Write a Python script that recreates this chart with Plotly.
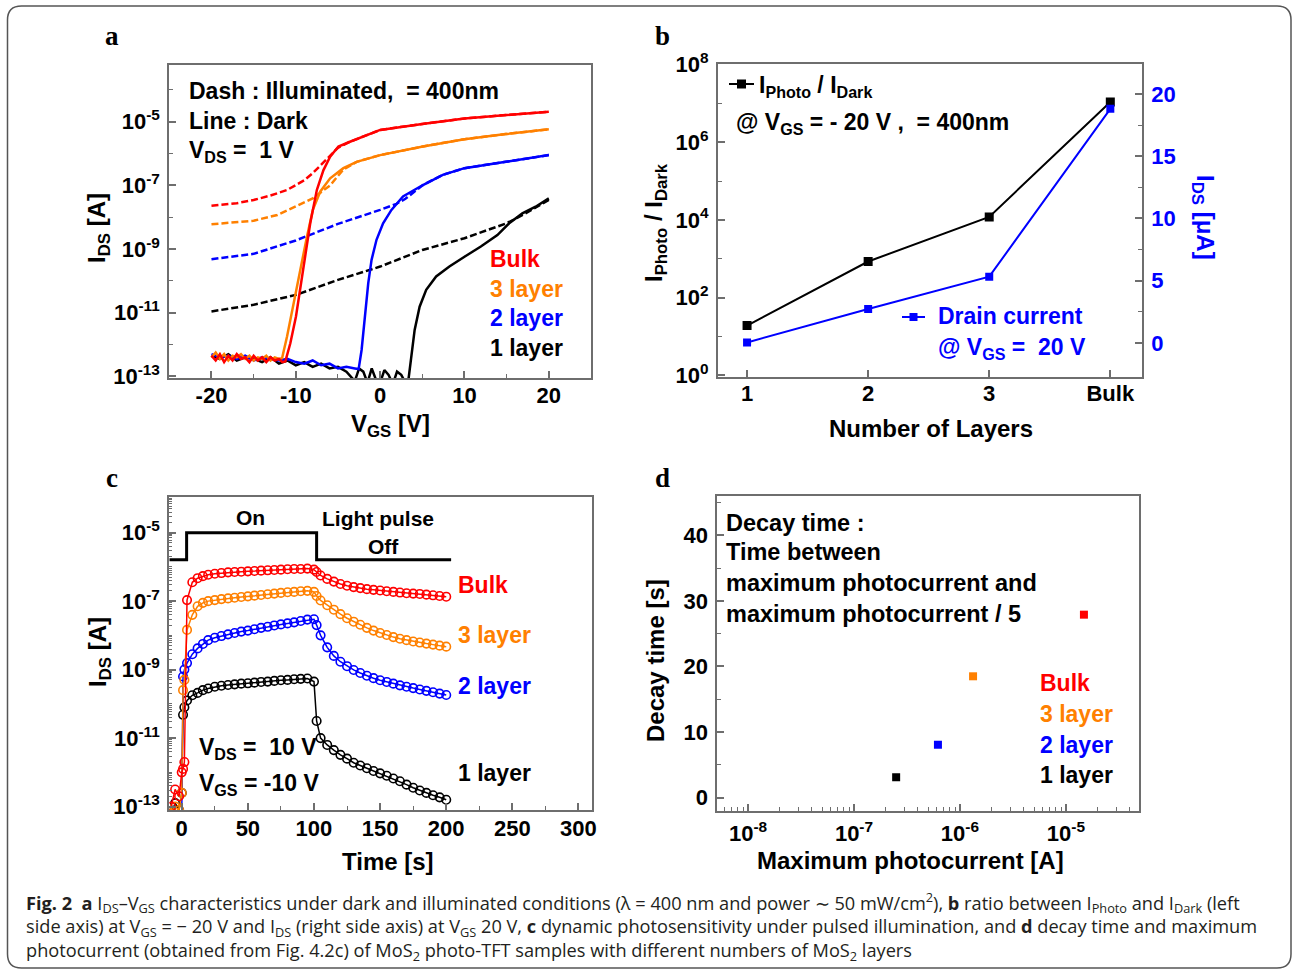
import plotly.graph_objects as go

W, H = 1293, 972

# ---------------- data ----------------
# Panel a : I_DS - V_GS (values are log10 of I_DS in A)
a_bulk_dark_v = [-20, -19.5, -19, -18.5, -18, -17.5, -17, -16.5, -16, -15.5, -15, -14.5, -14, -13.5, -13, -12.5, -12,
                 -11.6, -11.24, -10.65, -9.98, -9.47, -8.88, -8.29, -7.5, -6.72, -5.93, -4.95, -3.58, 0, 5, 10, 15, 20]
a_bulk_dark_log = [-12.35, -12.5, -12.3, -12.55, -12.35, -12.5, -12.3, -12.45, -12.4, -12.55, -12.35, -12.5, -12.4, -12.55, -12.4, -12.5, -12.45,
                   -12.55, -12.53, -11.96, -11.12, -10.28, -9.24, -8.19, -7.14, -6.52, -6.10, -5.78, -5.63, -5.26, -5.07, -4.90, -4.79, -4.69]
a_bulk_ill_v = [-20, -17, -15, -13, -11, -10, -9, -8, -7, -6, -5, -3.58, 0, 5, 10, 15, 20]
a_bulk_ill_log = [-7.64, -7.56, -7.46, -7.32, -7.14, -7.0, -6.84, -6.62, -6.35, -6.08, -5.82, -5.63, -5.26, -5.07, -4.9, -4.79, -4.69]

a_l3_dark_v = [-20, -19.5, -19, -18.5, -18, -17.5, -17, -16.5, -16, -15.5, -15, -14.5, -14, -13.5, -13, -12.5, -12,
               -11.63, -11.04, -10.26, -9.47, -8.68, -7.98, -7.11, -5.93, -4.36, -2.79, 0, 5.07, 10, 14.9, 20]
a_l3_dark_log = [-12.4, -12.25, -12.45, -12.3, -12.5, -12.35, -12.4, -12.3, -12.45, -12.35, -12.5, -12.4, -12.45, -12.35, -12.5, -12.4, -12.45,
                 -12.43, -11.75, -10.70, -9.65, -8.61, -7.77, -7.20, -6.78, -6.46, -6.26, -6.05, -5.78, -5.55, -5.39, -5.24]
a_l3_ill_v = [-20, -17, -15, -12.2, -10, -8, -5.93, -4.36, -2.79, 0, 5.07, 10, 14.9, 20]
a_l3_ill_log = [-8.22, -8.16, -8.11, -7.93, -7.67, -7.41, -7.0, -6.5, -6.26, -6.05, -5.78, -5.55, -5.39, -5.24]

a_l2_dark_v = [-20, -19, -18, -17, -16, -15, -14, -13, -12, -11, -10, -9, -8, -7, -6, -5, -4, -3,
               -2.55, -2.2, -1.81, -1.41, -1.02, -0.43, 0.35, 1.34, 2.71, 5.07, 7.43, 10, 14.9, 20]
a_l2_dark_log = [-12.3, -12.4, -12.35, -12.45, -12.35, -12.5, -12.4, -12.45, -12.5, -12.45, -12.55, -12.6, -12.5, -12.65, -12.6, -12.75, -12.7, -12.75,
                 -12.77, -12.17, -11.12, -10.07, -9.34, -8.71, -8.19, -7.77, -7.35, -6.99, -6.67, -6.46, -6.26, -6.05]
a_l2_ill_v = [-20, -15, -10, -5, 0, 1.93, 3, 5.07, 7.43, 10, 14.9, 20]
a_l2_ill_log = [-9.32, -9.15, -8.73, -8.21, -7.77, -7.58, -7.42, -6.99, -6.67, -6.46, -6.26, -6.05]

a_l1_dark_v = [-20, -19, -18, -17, -16, -15, -14, -13, -12, -11, -10, -9, -8, -7, -6, -5, -4,
               -3, -2.5, -2, -1.5, -1, -0.5, 0, 0.5, 1, 1.5, 2, 2.5, 3, 3.38, 3.7, 4.09, 4.68, 5.46, 6.64, 8.21, 10, 11.94,
               13.9, 15.3, 16.86, 18.43, 20]
a_l1_dark_log = [-12.35, -12.45, -12.3, -12.5, -12.4, -12.45, -12.55, -12.4, -12.6, -12.5, -12.65, -12.55, -12.7, -12.6, -12.75, -12.7, -12.85,
                 -13.15, -12.75, -12.85, -13.2, -12.75, -13.1, -13.2, -12.8, -12.95, -13.25, -12.85, -12.95, -13.2,
                 -13.05, -12.37, -11.54, -10.81, -10.28, -9.86, -9.55, -9.24, -8.92, -8.56, -8.19, -7.88, -7.67, -7.41]
a_l1_ill_v = [-20, -15, -10, -5, 0, 5, 10, 15, 16.9, 20]
a_l1_ill_log = [-10.96, -10.75, -10.44, -9.97, -9.55, -9.03, -8.66, -8.19, -7.93, -7.46]
a_xticks = [-20, -10, 0, 10, 20]
a_xtick_labels = ['-20', '-10', '0', '10', '20']

# Panel b
b_layers = ['1', '2', '3', 'Bulk']
b_ratio = [19, 850, 1.2e4, 1.1e7]          # I_photo / I_dark
b_drain_uA = [0.05, 2.73, 5.33, 18.8]       # I_DS [uA]

# Panel c : dynamic response (log10 of I_DS in A)
c_time = [-8, -5, -2, 0, 1, 2, 4, 8, 12, 16, 20, 25, 30, 35, 40, 45, 50, 55, 60, 65, 70, 75, 80, 85, 90, 95, 100,
          102, 105, 110, 115, 120, 125, 130, 135, 140, 145, 150, 155, 160, 165, 170, 175, 180, 185, 190, 195, 200]
c_bulk_log = [-13.0, -12.5, -12.7, -12.0, -11.9, -11.7, -6.97, -6.45, -6.33, -6.27,
              -6.23, -6.20, -6.18, -6.16, -6.15, -6.14, -6.13, -6.12, -6.11, -6.10, -6.09, -6.08, -6.07, -6.06, -6.06, -6.05,
              -6.08, -6.15, -6.25,
              -6.35, -6.43, -6.50, -6.55, -6.59, -6.62, -6.65, -6.67, -6.69, -6.71, -6.73, -6.75, -6.77, -6.78, -6.79, -6.81, -6.83, -6.85, -6.87]
c_l3_log = [-13.2, -13.0, -13.1, -12.6, -9.6, -9.3, -7.84, -7.40, -7.15, -7.05,
            -7.00, -6.97, -6.94, -6.92, -6.90, -6.88, -6.86, -6.84, -6.82, -6.80, -6.78, -6.76, -6.74, -6.73, -6.71, -6.70,
            -6.73, -6.85, -6.98,
            -7.12, -7.25, -7.38, -7.50, -7.60, -7.69, -7.78, -7.86, -7.93, -7.99, -8.05, -8.10, -8.14, -8.18, -8.21, -8.24, -8.27, -8.30, -8.33]
c_l2_log = [-13.3, -13.3, -13.3, -13.3, -9.2, -9.0, -8.81, -8.55, -8.38, -8.25,
            -8.14, -8.07, -8.02, -7.97, -7.93, -7.89, -7.86, -7.82, -7.78, -7.75, -7.71, -7.68, -7.65, -7.62, -7.58, -7.54,
            -7.53, -7.70, -8.00,
            -8.35, -8.60, -8.77, -8.90, -9.01, -9.10, -9.18, -9.25, -9.31, -9.36, -9.41, -9.46, -9.50, -9.54, -9.58, -9.62, -9.66, -9.70, -9.74]
c_l1_log = [-13.2, -12.9, -13.1, -12.6, -10.32, -10.1, -9.90, -9.75, -9.68, -9.60,
            -9.55, -9.50, -9.47, -9.45, -9.43, -9.41, -9.40, -9.38, -9.36, -9.35, -9.33, -9.31, -9.30, -9.28, -9.27, -9.26,
            -9.35, -10.50, -11.00,
            -11.20, -11.35, -11.49, -11.60, -11.72, -11.80, -11.88, -11.96, -12.03, -12.10, -12.18, -12.26, -12.36, -12.45, -12.53, -12.60, -12.67, -12.73, -12.80]
c_pulse_t = [-9.4, 3.7, 3.7, 102, 102, 203.7]
c_pulse_level = [1.62e-6, 1.62e-6, 1e-5, 1e-5, 1.62e-6, 1.62e-6]

# Panel d
d_max_photocurrent = [2.5e-7, 6.2e-7, 1.33e-6, 1.48e-5]
d_decay_time = [3.1, 8.06, 18.5, 27.9]

layer_names = ['1 layer', '2 layer', '3 layer', 'Bulk']

RED, ORANGE, BLUE, BLACK = '#ff0000', '#ff8000', '#0000ff', '#000000'
layer_colors = [BLACK, BLUE, ORANGE, RED]
AXC = '#6e6e6e'
FONT = 'Liberation Sans'
TICK = 22
TXT = 23
TITLE = 24


def lin(logs):
    return [10 ** v for v in logs]


def fx(p):
    return p / W


def fy(p):
    return 1 - p / H


fig = go.Figure()

# ---------- panel a ----------
for v, lg, c in [(a_l1_ill_v, a_l1_ill_log, BLACK), (a_l2_ill_v, a_l2_ill_log, BLUE),
                 (a_l3_ill_v, a_l3_ill_log, ORANGE), (a_bulk_ill_v, a_bulk_ill_log, RED)]:
    fig.add_trace(go.Scatter(x=v, y=lin(lg), mode='lines', line=dict(color=c, width=2.5, dash='7px,3px'),
                             xaxis='x', yaxis='y', showlegend=False))
for v, lg, c in [(a_l1_dark_v, a_l1_dark_log, BLACK), (a_l2_dark_v, a_l2_dark_log, BLUE),
                 (a_l3_dark_v, a_l3_dark_log, ORANGE), (a_bulk_dark_v, a_bulk_dark_log, RED)]:
    fig.add_trace(go.Scatter(x=v, y=lin(lg), mode='lines', line=dict(color=c, width=2.5),
                             xaxis='x', yaxis='y', showlegend=False))

# ---------- panel b ----------
fig.add_trace(go.Scatter(x=b_layers, y=b_ratio, mode='lines+markers', line=dict(color=BLACK, width=2),
                         marker=dict(symbol='square', size=9, color=BLACK), xaxis='x2', yaxis='y2', showlegend=False))
fig.add_trace(go.Scatter(x=b_layers, y=b_drain_uA, mode='lines+markers', line=dict(color=BLUE, width=2),
                         marker=dict(symbol='square', size=8, color=BLUE), xaxis='x2', yaxis='y3', showlegend=False))

# ---------- panel c ----------
fig.add_trace(go.Scatter(x=c_pulse_t, y=c_pulse_level, mode='lines', line=dict(color=BLACK, width=3),
                         xaxis='x3', yaxis='y4', showlegend=False))
for lg, c in [(c_l1_log, BLACK), (c_l2_log, BLUE), (c_l3_log, ORANGE), (c_bulk_log, RED)]:
    fig.add_trace(go.Scatter(x=c_time, y=lin(lg), mode='lines+markers', line=dict(color=c, width=1.5),
                             marker=dict(symbol='circle-open', size=8.5, color=c, line=dict(width=1.6)),
                             xaxis='x3', yaxis='y4', showlegend=False, cliponaxis=True))

# ---------- panel d ----------
fig.add_trace(go.Scatter(x=d_max_photocurrent, y=d_decay_time, mode='markers',
                         marker=dict(symbol='square', size=8, color=layer_colors),
                         xaxis='x4', yaxis='y5', showlegend=False))


def ax(**kw):
    d = dict(showline=True, linecolor=AXC, linewidth=2, mirror=True, ticks='inside', ticklen=7,
             tickwidth=1.5, tickcolor=AXC, showgrid=False, zeroline=False, automargin=False,
             tickfont=dict(family=FONT, size=TICK, color='black', weight=700), ticklabelstandoff=3)
    d.update(kw)
    return d


def pow_text(k):
    return '10<sup>%d</sup>' % k


a_dom_x = [fx(169.3), fx(591)]
a_dom_y = [fy(378), fy(65)]
b_dom_x = [fx(718), fx(1141.8)]
b_dom_y = [fy(376.7), fy(64)]
c_dom_x = [fx(169.3), fx(591.7)]
c_dom_y = [fy(810), fy(496.7)]
d_dom_x = [fx(717.3), fx(1139)]
d_dom_y = [fy(810.7), fy(496)]

minor_small = dict(ticks='inside', ticklen=4, tickwidth=1.2, tickcolor=AXC)

fig.update_layout(
    width=W, height=H, autosize=False, margin=dict(l=0, r=0, t=0, b=0, autoexpand=False),
    paper_bgcolor='white', plot_bgcolor='white', showlegend=False,
    xaxis=ax(domain=a_dom_x, anchor='y', range=[-25, 25], tickvals=a_xticks, ticktext=a_xtick_labels,
             ticklabelstandoff=-3, minor=dict(tickvals=[-15, -5, 5, 15], **minor_small)),
    yaxis=ax(domain=a_dom_y, anchor='x', type='log', range=[-13.05, -3.22],
             tickvals=[10 ** k for k in [-13, -11, -9, -7, -5]],
             ticktext=[pow_text(k) for k in [-13, -11, -9, -7, -5]],
             minor=dict(tickvals=[10 ** k for k in [-12, -10, -8, -6, -4]], **minor_small)),
    xaxis2=ax(domain=b_dom_x, anchor='y2', type='category', categoryorder='array', categoryarray=b_layers,
              range=[-0.24, 3.26], ticklabelstandoff=-4),
    yaxis2=ax(domain=b_dom_y, anchor='x2', type='log', range=[-0.04, 8.02],
              tickvals=[10 ** k for k in [0, 2, 4, 6, 8]], ticktext=[pow_text(k) for k in [0, 2, 4, 6, 8]],
              minor=dict(tickvals=[10 ** k for k in [1, 3, 5, 7]], **minor_small)),
    yaxis3=ax(domain=b_dom_y, anchor='x2', overlaying='y2', side='right', range=[-2.7, 22.4], mirror=False,
              tickvals=[0, 5, 10, 15, 20],
              tickfont=dict(family=FONT, size=TICK, color=BLUE, weight=700),
              minor=dict(tickvals=[2.5, 7.5, 12.5, 17.5], **minor_small)),
    xaxis3=ax(domain=c_dom_x, anchor='y4', range=[-9.4, 310], tickvals=[0, 50, 100, 150, 200, 250, 300],
              ticklabelstandoff=-2, minor=dict(tickvals=[25, 75, 125, 175, 225, 275], **minor_small)),
    yaxis4=ax(domain=c_dom_y, anchor='x3', type='log', range=[-13.1, -3.95],
              tickvals=[10 ** k for k in [-13, -11, -9, -7, -5]],
              ticktext=[pow_text(k) for k in [-13, -11, -9, -7, -5]],
              minor=dict(tickvals=[m * 10 ** k for k in range(-13, -3) for m in range(1, 10)
                                   if not (m == 1 and k in [-13, -11, -9, -7, -5])],
                         ticks='inside', ticklen=3, tickwidth=1, tickcolor=AXC)),
    xaxis4=ax(domain=d_dom_x, anchor='y5', type='log', range=[-8.29, -4.31], ticklabelstandoff=2,
              tickvals=[1e-8, 1e-7, 1e-6, 1e-5], ticktext=[pow_text(k) for k in [-8, -7, -6, -5]],
              minor=dict(tickvals=[m * 10 ** k for k in range(-9, -4) for m in range(2, 10)],
                         ticks='inside', ticklen=4, tickwidth=1.2, tickcolor=AXC)),
    yaxis5=ax(domain=d_dom_y, anchor='x4', range=[-2, 46], tickvals=[0, 10, 20, 30, 40],
              minor=dict(tickvals=[5, 15, 25, 35, 45], **minor_small)),
)

ann = []


def T(text, x, y, size=TXT, color='black', xanchor='left', yanchor='middle', angle=0, family=FONT, weight=700,
      align='left'):
    ann.append(dict(text=text, x=fx(x), y=fy(y), xref='paper', yref='paper', showarrow=False,
                    xanchor=xanchor, yanchor=yanchor, textangle=angle, align=align,
                    font=dict(family=family, size=size, color=color, weight=weight)))


# panel letters
for letter, x, y in [('a', 112, 36), ('b', 662, 36), ('c', 112, 478), ('d', 662, 478)]:
    T(letter, x, y, size=27, xanchor='center', family='Liberation Serif')

# panel a texts
T('Dash : Illuminated,  = 400nm', 187, 91)
T('Line : Dark', 187, 121)
T('V<sub>DS</sub> =  1 V', 187, 152)
for name, c, y in [('Bulk', RED, 259), ('3 layer', ORANGE, 289), ('2 layer', BLUE, 318), ('1 layer', BLACK, 348)]:
    T(name, 488, y, color=c)
T('I<sub>DS</sub> [A]', 99, 228, size=TITLE, xanchor='center', angle=-90)
T('V<sub>GS</sub> [V]', 390, 426, size=TITLE, xanchor='center')

# panel b texts
T('I<sub>Photo</sub> / I<sub>Dark</sub>', 757, 87)
T('@ V<sub>GS</sub> = - 20 V ,  = 400nm', 734, 124)
T('Drain current', 936, 316, color=BLUE)
T('@ V<sub>GS</sub> =  20 V', 936, 348, color=BLUE)
T('I<sub>Photo</sub> / I<sub>Dark</sub>', 655, 222, size=TITLE, xanchor='center', angle=-90)
T('I<sub>DS</sub> [μA]', 1203, 217, size=TITLE, xanchor='center', angle=90, color=BLUE)
T('Number of Layers', 931, 428, size=TITLE, xanchor='center')

# panel c texts
T('On', 250, 517, size=21, xanchor='center')
T('Light pulse', 378, 518, size=21, xanchor='center')
T('Off', 383, 546, size=21, xanchor='center')
for name, c, y in [('Bulk', RED, 585), ('3 layer', ORANGE, 635), ('2 layer', BLUE, 686), ('1 layer', BLACK, 773)]:
    T(name, 456, y, color=c)
T('V<sub>DS</sub> =  10 V', 197, 748)
T('V<sub>GS</sub> = -10 V', 197, 784)
T('I<sub>DS</sub> [A]', 99, 652, size=TITLE, xanchor='center', angle=-90)
T('Time [s]', 388, 861, size=TITLE, xanchor='center')

# panel d texts
T('Decay time :', 724, 523, size=23.5)
T('Time between', 724, 552, size=23.5)
T('maximum photocurrent and', 724, 583, size=23.5)
T('maximum photocurrent / 5', 724, 614, size=23.5)
for name, c, y in [('Bulk', RED, 683), ('3 layer', ORANGE, 714), ('2 layer', BLUE, 745), ('1 layer', BLACK, 775)]:
    T(name, 1038, y, color=c)
T('Decay time [s]', 655, 660, size=TITLE, xanchor='center', angle=-90)
T('Maximum photocurrent [A]', 910, 860, size=TITLE, xanchor='center')

# caption
cap = [
    '<b>Fig. 2</b>  <b>a</b> I<sub>DS</sub>–V<sub>GS</sub> characteristics under dark and illuminated conditions (λ = 400 nm and power ∼ 50 mW/cm<sup>2</sup>), <b>b</b> ratio between I<sub>Photo</sub> and I<sub>Dark</sub> (left',
    'side axis) at V<sub>GS</sub> = − 20 V and I<sub>DS</sub> (right side axis) at V<sub>GS</sub> 20 V, <b>c</b> dynamic photosensitivity under pulsed illumination, and <b>d</b> decay time and maximum',
    'photocurrent (obtained from Fig. 4.2c) of MoS<sub>2</sub> photo-TFT samples with different numbers of MoS<sub>2</sub> layers',
]
T('<br>'.join(cap), 24, 886, size=18.2, family='Open Sans', weight=400, color='#231f20', yanchor='top')

fig.update_layout(annotations=ann)

# legend glyphs for panel b and outer rounded border
shapes = []
for (x0, x1, y, c, s) in [(729, 754, 84, BLACK, 4.5), (902, 925, 317, BLUE, 4)]:
    shapes.append(dict(type='line', xref='paper', yref='paper', x0=fx(x0), x1=fx(x1), y0=fy(y), y1=fy(y),
                       line=dict(color=c, width=2)))
    xm = (x0 + x1) / 2
    shapes.append(dict(type='rect', xref='paper', yref='paper', x0=fx(xm - s), x1=fx(xm + s), y0=fy(y + s), y1=fy(y - s),
                       fillcolor=c, line=dict(width=0)))

L, R, Tp, B, r = 7.5, 1291, 6, 968, 14
path = (f'M {fx(L + r)},{fy(Tp)} L {fx(R - r)},{fy(Tp)} Q {fx(R)},{fy(Tp)} {fx(R)},{fy(Tp + r)} '
        f'L {fx(R)},{fy(B - r)} Q {fx(R)},{fy(B)} {fx(R - r)},{fy(B)} L {fx(L + r)},{fy(B)} '
        f'Q {fx(L)},{fy(B)} {fx(L)},{fy(B - r)} L {fx(L)},{fy(Tp + r)} Q {fx(L)},{fy(Tp)} {fx(L + r)},{fy(Tp)} Z')
shapes.append(dict(type='path', xref='paper', yref='paper', path=path, line=dict(color='#555555', width=1.5)))
fig.update_layout(shapes=shapes)

fig.write_html('out.html')
